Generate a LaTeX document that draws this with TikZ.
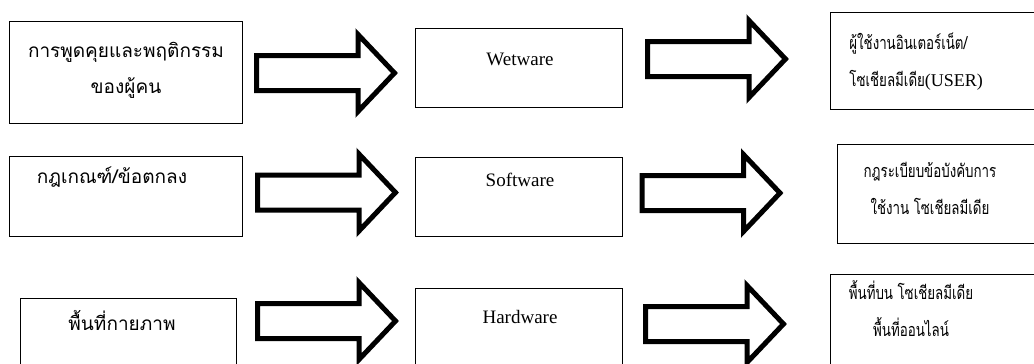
\documentclass[tikz,border=0pt]{standalone}
\usepackage{fontspec}
\setmainfont{Liberation Serif}
\newfontfamily\thaifont[Script=Thai]{Loma}
\newfontfamily\thainarrow[Script=Thai, FakeStretch=0.74]{Loma}
\usetikzlibrary{fit}
\tikzstyle{box}=[draw, line width=0.5pt, inner sep=0pt]
\tikzstyle{thai}=[font=\thaifont\fontsize{9.5}{18}\selectfont, align=center, inner sep=0pt]
\tikzstyle{thaismall}=[thai, font=\thainarrow\fontsize{9}{18.5}\selectfont]
\tikzstyle{eng}=[font=\fontsize{9.5}{11}\selectfont, inner sep=0pt]
\tikzstyle{bigarrow}=[draw, line width=2.5pt, fill=white]
\tikzset{blockarrow/.pic={
  \path[bigarrow] (0,-17.5) -- (101.5,-17.5) -- (101.5,-38.5) -- (138,0)
    -- (101.5,38.5) -- (101.5,17.5) -- (0,17.5) -- cycle;}}

\begin{document}
\begin{tikzpicture}[x=0.5pt, y=-0.5pt]
  \useasboundingbox (0,0) rectangle (1034,364);
  \clip (0,0) rectangle (1034,364);
  % row 1
  \node[box, fit={(9,21) (242,123)}] (talk) {};
  \node[box, fit={(415,28) (622,107)}] (wet) {};
  \node[box, fit={(830,12) (1040,109)}] (user) {};
  \pic (talkwet) at (256.5,73) {blockarrow};
  \pic (wetuser) at (647.5,59) {blockarrow};
  \node[thai] (talktext) at (126,70) {การพูดคุยและพฤติกรรม\\ของผู้คน};
  \node[eng] (wettext) at (520,59) {Wetware};
  \node[thaismall, align=left, anchor=west] (usertext) at (849,62)
    {ผู้ใช้งานอินเตอร์เน็ต/\\โซเชียลมีเดีย{\rmfamily(USER)}};
  % row 2
  \node[box, fit={(9,156) (242,236)}] (rule) {};
  \node[box, fit={(837,144) (1040,243)}] (reg) {};
  \node[box, fit={(415,157) (622,236)}] (soft) {};
  \pic (rulesoft) at (257.5,192.5) {blockarrow};
  \pic (softreg) at (642,193) {blockarrow};
  \node[thai] (ruletext) at (112,177) {กฎเกณฑ์/ข้อตกลง};
  \node[eng] (softtext) at (520,180) {Software};
  \node[thaismall] (regtext) at (930,188) {กฎระเบียบข้อบังคับการ\\ใช้งาน โซเชียลมีเดีย};
  % row 3
  \node[box, fit={(20,298) (236,372)}] (space) {};
  \node[box, fit={(415,288) (622,372)}] (hard) {};
  \node[box, fit={(830,274) (1040,372)}] (online) {};
  \pic (spacehard) at (257.5,321) {blockarrow};
  \pic (hardonline) at (645.5,324) {blockarrow};
  \node[thai] (spacetext) at (122,320) {พื้นที่กายภาพ};
  \node[eng] (hardtext) at (520,317) {Hardware};
  \node[thaismall] (onlinetext) at (911,309) {พื้นที่บน โซเชียลมีเดีย\\พื้นที่ออนไลน์};
\end{tikzpicture}
\end{document}
